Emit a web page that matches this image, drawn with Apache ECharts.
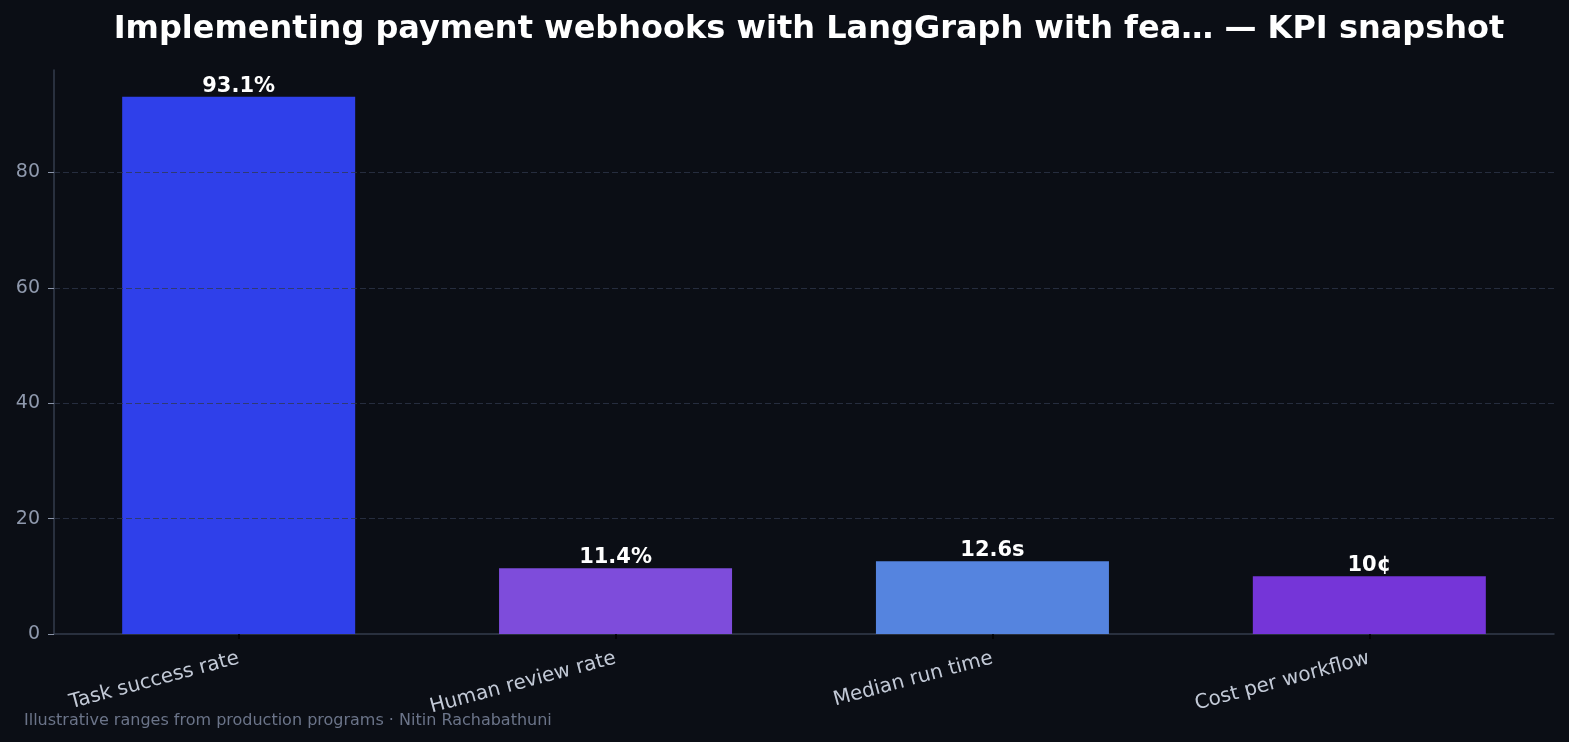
<!DOCTYPE html>
<html>
<head>
<meta charset="utf-8">
<script src="https://cdn.jsdelivr.net/npm/echarts@6/dist/echarts.min.js"></script>
<style>
html,body{margin:0;padding:0;background:#0b0e15;}
#chart{width:1569px;height:742px;}
</style>
</head>
<body>
<div id="chart"></div>
<script>
const titleText = 'Implementing payment webhooks with LangGraph with fea\u2026 \u2014 KPI snapshot';
const footerText = 'Illustrative ranges from production programs \u00b7 Nitin Rachabathuni';
const categories = ['Task success rate', 'Human review rate', 'Median run time', 'Cost per workflow'];
const values = [93.1, 11.4, 12.6, 10];
const valueLabels = ['93.1%', '11.4%', '12.6s', '10\u00a2'];
const yTicks = [0, 20, 40, 60, 80];
const palette = ['#2f40ea', '#7e4cdb', '#5584df', '#7535d8'];

const FONT = '"DejaVu Sans", sans-serif';
const xPositions = categories.map((c, i) => i);
const chart = echarts.init(document.getElementById('chart'), null, {renderer: 'canvas'});
chart.setOption({
  backgroundColor: '#0b0e15',
  animation: false,
  title: {
    text: titleText,
    left: 804, top: 9, textAlign: 'center',
    textStyle: {color: '#ffffff', fontFamily: FONT, fontWeight: 'bold', fontSize: 32}
  },
  graphic: [{
    type: 'text', left: 24, top: 713,
    style: {text: footerText, fill: '#6b7489', font: '16px "DejaVu Sans", sans-serif'}
  }],
  grid: {left: 54, right: 15, top: 70, bottom: 108, containLabel: false},
  xAxis: {
    type: 'value',
    min: -0.49, max: 3.49,
    axisLine: {show: true, onZero: false, lineStyle: {color: '#343c4c', width: 1.5}},
    axisTick: {show: true, length: 5, customValues: xPositions, lineStyle: {color: '#000000', width: 1.5}},
    axisLabel: {
      customValues: xPositions, rotate: 15, margin: 24,
      formatter: v => categories[Math.round(v)],
      color: '#c2c9d6', fontFamily: FONT, fontSize: 20
    },
    splitLine: {show: false}
  },
  yAxis: {
    type: 'value',
    min: 0, max: 93.1 * 1.05, interval: 20,
    z: 5,
    axisLine: {show: true, onZero: false, lineStyle: {color: '#343c4c', width: 1.5}},
    axisTick: {show: true, length: 6, customValues: yTicks, lineStyle: {color: '#8a94a8'}},
    axisLabel: {customValues: yTicks, margin: 14, color: '#8f99ad', fontFamily: FONT, fontSize: 19},
    splitLine: {show: true, showMinLine: false, showMaxLine: true, lineStyle: {color: 'rgba(48,56,76,0.75)', type: [6, 3], width: 1.2}}
  },
  series: [{
    type: 'bar',
    data: values.map((v, i) => ({value: [xPositions[i], v], itemStyle: {color: palette[i]}})),
    barWidth: 233,
    label: {
      show: true, position: 'top', distance: 0,
      formatter: p => valueLabels[p.dataIndex],
      color: '#ffffff', fontFamily: FONT, fontWeight: 'bold', fontSize: 21
    }
  }]
});
</script>
</body>
</html>
